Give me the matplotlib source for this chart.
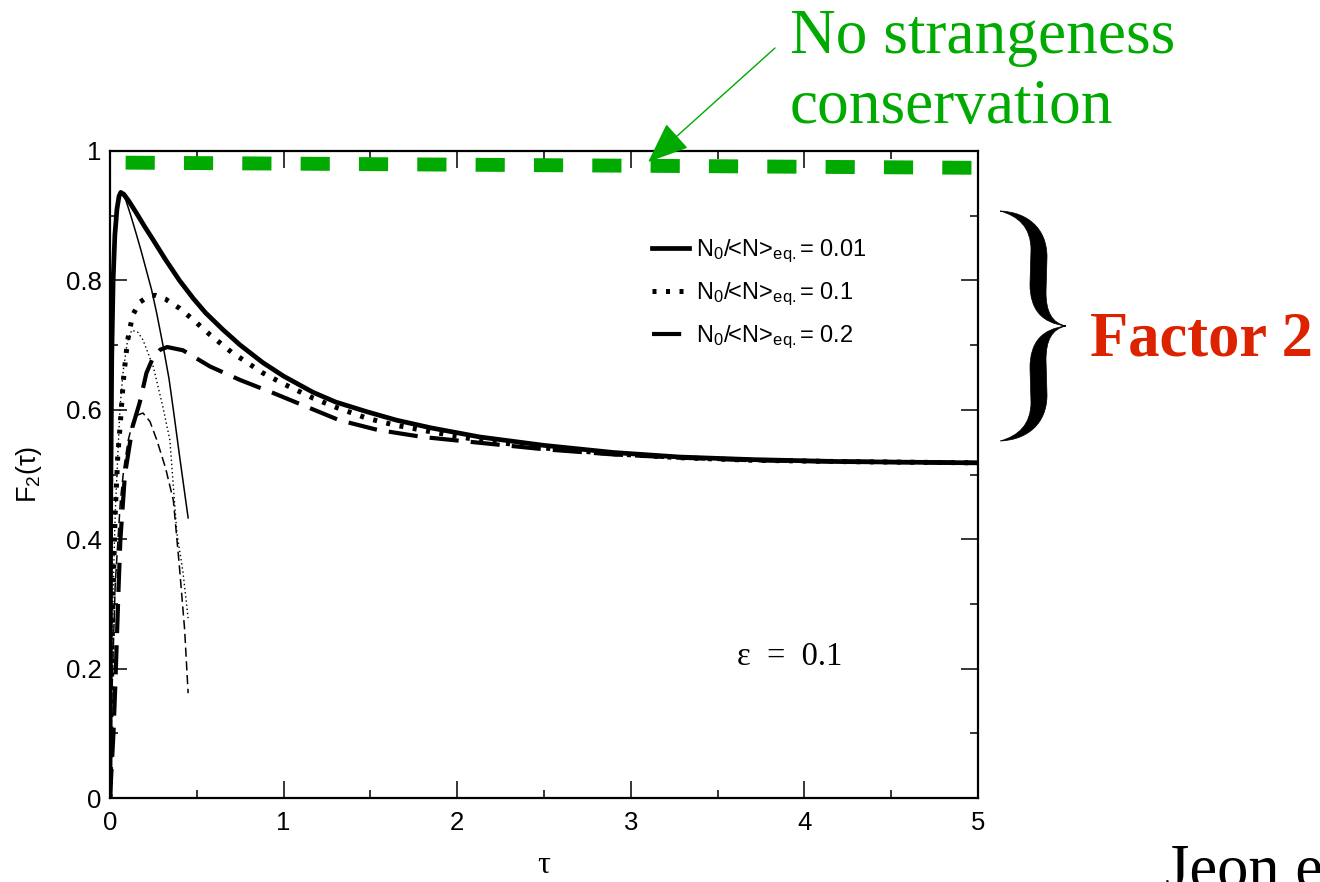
from matplotlib import pyplot as plt
from matplotlib.path import Path
from matplotlib.patches import PathPatch

plt.rcParams['font.family'] = ['Liberation Sans', 'DejaVu Sans']
plt.rcParams['mathtext.fontset'] = 'custom'
plt.rcParams['mathtext.rm'] = 'Liberation Sans'
plt.rcParams['mathtext.it'] = 'Liberation Sans:italic'

# N0/<N>eq = 0.01 (thick = full, thin = approximation)
tau_a = [0, 0.004, 0.01, 0.018, 0.028, 0.04, 0.052, 0.062, 0.08, 0.11, 0.15, 0.2, 0.25,
         0.32, 0.4, 0.48, 0.55, 0.65, 0.75, 0.88, 1.0, 1.17, 1.3, 1.48, 1.65, 1.85,
         2.13, 2.5, 2.9, 3.28, 3.7, 4.2, 4.6, 5.0]
f2_a = [0, 0.45, 0.68, 0.8, 0.87, 0.91, 0.93, 0.936, 0.933, 0.922, 0.905, 0.883, 0.862,
        0.832, 0.80, 0.772, 0.75, 0.724, 0.70, 0.673, 0.652, 0.627, 0.612, 0.597, 0.584, 0.572,
        0.558, 0.545, 0.534, 0.527, 0.523, 0.52, 0.519, 0.518]
tau_a_thin = [0, 0.004, 0.01, 0.018, 0.028, 0.04, 0.052, 0.062, 0.09, 0.12, 0.15, 0.18,
              0.21, 0.24, 0.27, 0.305, 0.34, 0.365, 0.4, 0.45]
f2_a_thin = [0, 0.45, 0.68, 0.8, 0.87, 0.91, 0.93, 0.936, 0.925, 0.90, 0.873, 0.845,
             0.815, 0.785, 0.748, 0.70, 0.648, 0.60, 0.53, 0.433]

# N0/<N>eq = 0.1
tau_b = [0, 0.008, 0.018, 0.03, 0.045, 0.058, 0.077, 0.1, 0.13, 0.17, 0.22, 0.26,
         0.32, 0.4, 0.48, 0.576, 0.7, 0.88, 1.0, 1.17, 1.3, 1.48, 1.63, 1.85, 2.13,
         2.5, 2.9, 3.28, 3.7, 4.2, 4.6, 5.0]
f2_b = [0, 0.17, 0.32, 0.44, 0.53, 0.574, 0.646, 0.705, 0.746, 0.766, 0.775, 0.777,
        0.771, 0.757, 0.739, 0.716, 0.689, 0.657, 0.64, 0.618, 0.604, 0.587, 0.577, 0.566, 0.553,
        0.541, 0.532, 0.526, 0.522, 0.52, 0.519, 0.518]
tau_b_thin = [0, 0.008, 0.018, 0.03, 0.045, 0.058, 0.077, 0.1, 0.125, 0.16, 0.19, 0.25,
              0.305, 0.345, 0.385, 0.42, 0.45]
f2_b_thin = [0, 0.17, 0.32, 0.44, 0.53, 0.605, 0.662, 0.705, 0.723, 0.72, 0.708, 0.666,
             0.604, 0.553, 0.41, 0.35, 0.278]

# N0/<N>eq = 0.2
tau_c = [0, 0.01, 0.02, 0.03, 0.04, 0.05, 0.06, 0.086, 0.13, 0.17, 0.21, 0.25, 0.29,
         0.33, 0.42, 0.576, 0.75, 0.94, 1.13, 1.32, 1.54, 1.8, 2.13, 2.5, 2.9, 3.28,
         3.7, 4.2, 4.6, 5.0]
f2_c = [0, 0.05, 0.1, 0.17, 0.25, 0.33, 0.4, 0.50, 0.574, 0.61, 0.657, 0.682, 0.693,
        0.697, 0.692, 0.667, 0.646, 0.626, 0.605, 0.584, 0.569, 0.558, 0.549, 0.539, 0.531,
        0.526, 0.522, 0.52, 0.519, 0.518]
tau_c_thin = [0, 0.01, 0.03, 0.06, 0.08, 0.105, 0.13, 0.16, 0.19, 0.23, 0.27, 0.32,
              0.365, 0.4, 0.43, 0.45]
f2_c_thin = [0, 0.15, 0.33, 0.46, 0.51, 0.553, 0.58, 0.592, 0.595, 0.582, 0.553, 0.51,
             0.46, 0.357, 0.26, 0.162]

# no strangeness conservation
tau_free = [0.09, 5.0]
f2_free = [0.982, 0.974]

labels = ['N$_0$/<N>$_{\\mathrm{eq.}}$= 0.01',
          'N$_0$/<N>$_{\\mathrm{eq.}}$= 0.1',
          'N$_0$/<N>$_{\\mathrm{eq.}}$= 0.2']

fig = plt.figure(figsize=(13.2, 8.82), dpi=100)
ax = fig.add_axes([110 / 1320, 84 / 882, 868 / 1320, 647 / 882])

ax.plot(tau_a_thin, f2_a_thin, color='black', lw=1.1)
ax.plot(tau_b_thin, f2_b_thin, color='black', lw=1.0, ls=(0, (1, 2)))
ax.plot(tau_c_thin, f2_c_thin, color='black', lw=1.1, ls=(0, (6, 3)))
la, = ax.plot(tau_a, f2_a, color='black', lw=3.4, label=labels[0])
lb, = ax.plot(tau_b, f2_b, color='black', lw=3.6, ls=(0, (0.8, 1.9)), label=labels[1])
lc, = ax.plot(tau_c, f2_c, color='black', lw=3.0, ls=(0, (7, 2.9)), label=labels[2])

ax.plot(tau_free, f2_free, color='#00aa00', lw=10, ls=(0, (2.1, 2.1)), clip_on=False)

ax.set_xlim(0, 5)
ax.set_ylim(0, 1)
ax.set_xticks([0, 1, 2, 3, 4, 5])
ax.set_xticks([0.5, 1.5, 2.5, 3.5, 4.5], minor=True)
ax.set_yticks([0, 0.2, 0.4, 0.6, 0.8, 1])
ax.set_yticks([0.1, 0.3, 0.5, 0.7, 0.9], minor=True)
ax.set_yticklabels(['0', '0.2', '0.4', '0.6', '0.8', '1'])
ax.tick_params(which='both', direction='in', top=True, right=True, width=1.1,
               labelsize=18.5)
ax.tick_params(axis='x', pad=9)
ax.tick_params(axis='y', pad=6)
ax.tick_params(which='major', length=12)
ax.tick_params(which='minor', length=6)
for s in ax.spines.values():
    s.set_linewidth(1.6)

ax.set_xlabel('τ', family='Liberation Serif', fontsize=23, labelpad=12)
ax.set_ylabel('F$_2$(τ)', fontsize=19.5, labelpad=16)

ax.legend(handles=[la, lb, lc], loc='upper left', bbox_to_anchor=(0.624, 0.866),
          frameon=False, fontsize=17, handlelength=1.6, handletextpad=0.3,
          labelspacing=0.66, borderpad=0, borderaxespad=0)

ax.text(3.61, 0.218, 'ε  =  0.1', family='Liberation Serif', fontsize=23.5, va='center')

# annotation
ax.annotate('', xy=(3.1, 0.983), xycoords='data',
            xytext=(775, 882 - 48), textcoords='figure pixels',
            arrowprops=dict(arrowstyle='-|>,head_length=2.6,head_width=1.05',
                            color='#00aa00', lw=1.0, shrinkA=0, shrinkB=0))
fig.text(790 / 1320, 1 - 53 / 882, 'No strangeness', color='#00aa00',
         family='Liberation Serif', fontsize=45.5, va='baseline', ha='left')
fig.text(790 / 1320, 1 - 123 / 882, 'conservation', color='#00aa00',
         family='Liberation Serif', fontsize=45.5, va='baseline', ha='left')

# brace (figure pixels, y down)
pts = [(1000, 211), (1027, 212), (1047, 228), (1047, 257),
       (1046, 292),
       (1046, 312), (1052, 323), (1066, 326),
       (1052, 329), (1046, 340), (1046, 360),
       (1047, 395),
       (1047, 424), (1027, 440), (1000, 441),
       (1018, 436), (1031, 425), (1031, 402),
       (1030, 368),
       (1030, 342), (1042, 329), (1066, 326),
       (1042, 323), (1030, 310), (1030, 284),
       (1031, 250),
       (1031, 227), (1018, 216), (1000, 211)]
codes = ([Path.MOVETO] + [Path.CURVE4] * 3 + [Path.LINETO] + [Path.CURVE4] * 6 +
         [Path.LINETO] + [Path.CURVE4] * 6 + [Path.LINETO] + [Path.CURVE4] * 6 +
         [Path.LINETO] + [Path.CURVE4] * 3)
brace = Path([(x / 1320, 1 - y / 882) for x, y in pts], codes)
fig.add_artist(PathPatch(brace, transform=fig.transFigure, facecolor='black',
                         edgecolor='black', lw=0.5))

fig.text(1090 / 1320, 1 - 355 / 882, 'Factor 2', color='#dd2200', family='Liberation Serif',
         weight='bold', fontsize=45, va='baseline', ha='left')
fig.text(1165 / 1320, 1 - 887 / 882, 'Jeon et al.', color='black', family='Liberation Serif',
         fontsize=45, va='baseline', ha='left')

plt.savefig('out.png', dpi=100)
